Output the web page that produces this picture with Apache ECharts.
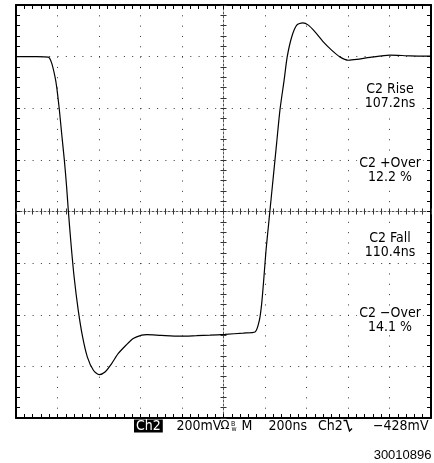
<!DOCTYPE html>
<html>
<head>
<meta charset="utf-8">
<title>C2 pulse – rise / fall measurement</title>
<script src="https://cdn.jsdelivr.net/npm/echarts@6/dist/echarts.min.js"></script>
<style>
  html, body { margin: 0; padding: 0; background: #fff; }
  #chart { width: 434px; height: 463px; }
</style>
</head>
<body>
<div id="chart"></div>
<script>
// Screen scale: 200 ns/div horizontally (10 div), 200 mV/div vertically (8 div)
const timeRange = [-1000, 1000];   // ns, relative to screen centre
const voltRange = [-800, 800];     // mV, relative to screen centre
const timePerDiv = 200;
const voltPerDiv = 200;

// Captured channel 2 trace
const traceTime = [
  -1000, -900, -844, -828, -812, -804, -791, -780, -767, -756,
  -748, -735, -720, -700, -679, -656, -627, -599, -571, -539,
  -507, -470, -435, -394, -370, -300, -210, -130, -65, 7,
  95, 152, 173, 184, 195, 205, 216, 224, 240, 256,
  272, 292, 307, 329, 353, 382, 409, 441, 481, 521,
  561, 601, 642, 706, 802, 899, 1000
];
const traceVolt = [
  600, 600, 598, 575, 522, 483, 393, 302, 199, 95,
  5, -124, -253, -383, -486, -564, -615, -632, -622, -589,
  -550, -518, -492, -479, -477, -480, -483, -481, -479, -476,
  -471, -467, -421, -357, -253, -150, -60, 5, 134, 264,
  393, 508, 599, 677, 722, 731, 722, 696, 657, 625,
  599, 586, 589, 597, 606, 603, 602
];

// Measurement readouts
const measureNames = ['C2 Rise', 'C2 +Over', 'C2 Fall', 'C2 \u2212Over'];
const measureValues = ['107.2ns', '12.2 %', '110.4ns', '14.1 %'];

// Status line
const statusChannel = 'Ch2';
const statusScale = '200mV';
const statusTimebase = '200ns';
const statusTrigSource = 'Ch2';
const statusTrigLevel = '\u2212428mV';
const imageId = '30010896';

const scopeFont = '"DejaVu Sans Condensed", "Liberation Sans Narrow", sans-serif';

const chart = echarts.init(document.getElementById('chart'), null, { renderer: 'canvas' });

function frameAxisX(position, withGrid) {
  return {
    type: 'value', position: position,
    min: timeRange[0], max: timeRange[1], interval: timePerDiv,
    axisLine: { show: true, onZero: false, lineStyle: { color: '#000', width: 2 } },
    axisTick: { show: true, inside: true, length: 4, lineStyle: { color: '#000', width: 1 } },
    minorTick: { show: true, splitNumber: 5, length: 4, lineStyle: { color: '#000', width: 1 } },
    axisLabel: { show: false },
    splitLine: withGrid
      ? { show: true, lineStyle: { color: '#333', width: 1, type: [1, 9.325] } }
      : { show: false }
  };
}
function frameAxisY(position, withGrid) {
  return {
    type: 'value', position: position,
    min: voltRange[0], max: voltRange[1], interval: voltPerDiv,
    axisLine: { show: true, onZero: false, lineStyle: { color: '#000', width: 2 } },
    axisTick: { show: true, inside: true, length: 4, lineStyle: { color: '#000', width: 1 } },
    minorTick: { show: true, splitNumber: 5, length: 4, lineStyle: { color: '#000', width: 1 } },
    axisLabel: { show: false },
    splitLine: withGrid
      ? { show: true, lineStyle: { color: '#333', width: 1, type: [1, 7.3] } }
      : { show: false }
  };
}
// Centre graticule lines with tick marks on both sides
function centreAxisX(inside, drawLine) {
  return {
    type: 'value', position: 'bottom',
    min: timeRange[0], max: timeRange[1], interval: timePerDiv,
    axisLine: { show: drawLine, onZero: true, onZeroAxisIndex: 0,
      lineStyle: { color: '#555', width: 1, type: [2, 2] } },
    axisTick: { show: true, inside: inside, length: 3, lineStyle: { color: '#333', width: 1 } },
    minorTick: { show: true, splitNumber: 5, length: 3, lineStyle: { color: '#333', width: 1 } },
    axisLabel: { show: false },
    splitLine: { show: false }
  };
}
function centreAxisY(inside, drawLine) {
  return {
    type: 'value', position: 'left',
    min: voltRange[0], max: voltRange[1], interval: voltPerDiv,
    axisLine: { show: drawLine, onZero: true, onZeroAxisIndex: 0,
      lineStyle: { color: '#555', width: 1, type: [2, 2] } },
    axisTick: { show: true, inside: inside, length: 3, lineStyle: { color: '#333', width: 1 } },
    minorTick: { show: true, splitNumber: 5, length: 3, lineStyle: { color: '#333', width: 1 } },
    axisLabel: { show: false },
    splitLine: { show: false }
  };
}

// Readout texts on the right side of the screen
const readoutX = 390;
const readoutTop = [89.5, 163, 238.5, 313.5];
const graphics = [];
measureNames.forEach(function (name, i) {
  [name, measureValues[i]].forEach(function (txt, j) {
    graphics.push({
      type: 'text', z: 10,
      style: {
        text: txt, x: readoutX, y: readoutTop[i] + j * 14,
        align: 'center', verticalAlign: 'middle',
        font: '14px ' + scopeFont, fill: '#000',
        backgroundColor: '#fff', padding: [0, 2]
      }
    });
  });
});

// Status line under the screen
const statusY = 426;
function statusText(txt, x, extra) {
  return {
    type: 'text', z: 10,
    style: Object.assign({
      text: txt, x: x, y: statusY, align: 'left', verticalAlign: 'middle',
      font: '14px ' + scopeFont, fill: '#000'
    }, extra || {})
  };
}
graphics.push(statusText(statusChannel, 134, {
  fill: '#fff', backgroundColor: '#000', padding: [0, 2], lineHeight: 13
}));
graphics.push(statusText(statusScale, 176.5));
graphics.push(statusText('\u03A9', 220.5, { font: '13px ' + scopeFont }));
graphics.push(statusText('B', 231, { font: '7px ' + scopeFont, y: statusY - 2 }));
graphics.push(statusText('w', 231.5, { font: '7px ' + scopeFont, y: statusY + 3 }));
graphics.push(statusText('M', 241.5));
graphics.push(statusText(statusTimebase, 268.5));
graphics.push(statusText(statusTrigSource, 318));
// falling-edge trigger symbol
graphics.push({
  type: 'polyline', z: 10,
  shape: { points: [[343.5, 420.5], [346.5, 420.5], [349.5, 431], [352, 428.5]] },
  style: { stroke: '#000', lineWidth: 1.4, fill: null }
});
graphics.push(statusText(statusTrigLevel, 428.5, { align: 'right' }));
graphics.push({
  type: 'text', z: 10,
  style: {
    text: imageId, x: 431.5, y: 455, align: 'right', verticalAlign: 'middle',
    font: '13px "Liberation Sans", Arial, sans-serif', fill: '#000'
  }
});

const traceData = traceTime.map(function (t, i) { return [t, traceVolt[i]]; });

chart.setOption({
  backgroundColor: '#fff',
  animation: false,
  grid: { left: 16, top: 5, width: 415, height: 413, containLabel: false, show: false },
  xAxis: [
    frameAxisX('bottom', true),
    frameAxisX('top', false),
    centreAxisX(false, true),
    centreAxisX(true, false)
  ],
  yAxis: [
    frameAxisY('left', true),
    frameAxisY('right', false),
    centreAxisY(false, true),
    centreAxisY(true, false)
  ],
  series: [{
    type: 'line',
    xAxisIndex: 0, yAxisIndex: 0,
    data: traceData,
    showSymbol: false,
    smooth: 0.25,
    lineStyle: { color: '#000', width: 1.2 },
    z: 5
  }],
  graphic: graphics
});
</script>
</body>
</html>
